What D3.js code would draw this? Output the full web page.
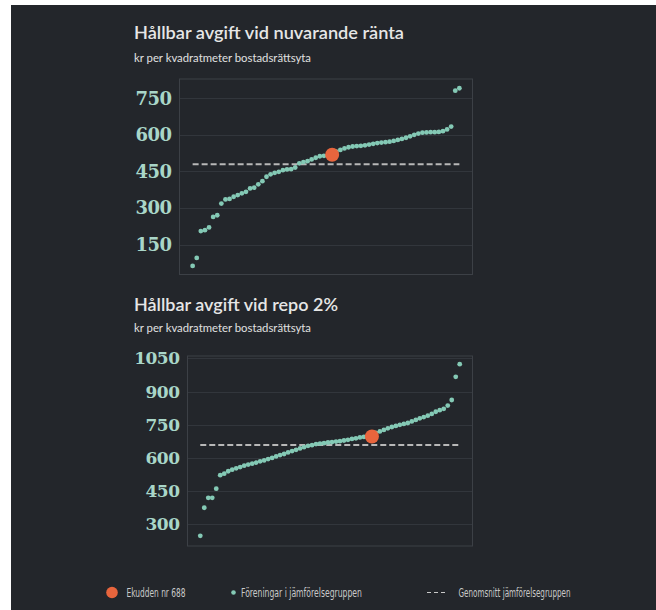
<!DOCTYPE html>
<html><head><meta charset="utf-8">
<script src="https://cdn.jsdelivr.net/npm/d3@7"></script>
<style>
html,body{margin:0;padding:0;background:#ffffff;}
svg{display:block;}
</style></head>
<body>
<script>
// ---- data ----
const titles = ["Hållbar avgift vid nuvarande ränta", "Hållbar avgift vid repo 2%"];
const subtitle = "kr per kvadratmeter bostadsrättsyta";
const feeNow = [62,95,205,209,220,263,270,318,335,337,346,353,360,366,380,383,397,410,428,438,444,448,455,458,459,466,483,488,492,499,506,512,514,516,518,531,538,544,549,552,554,555,557,560,563,566,568,570,572,575,579,583,588,594,600,605,609,610,611,611,612,615,622,634,781,791];
const feeRepo = [248,375,420,420,461,522,529,540,547,553,559,565,570,574,579,585,589,595,600,607,613,618,625,631,637,643,649,655,658,663,665,667,670,672,674,676,679,682,686,689,693,695,697,699,713,720,727,734,740,745,750,754,758,765,772,779,785,791,799,809,816,822,837,862,967,1024];
const ekuddenIndex = [34, 43];
const ekuddenValue = [518, 697];
const groupAverage = [479, 659];
const yTicksNow = [150, 300, 450, 600, 750];
const yTicksRepo = [300, 450, 600, 750, 900, 1050];
const yDomainNow = [27, 829];
const yDomainRepo = [202, 1061];
const legendLabels = ["Ekudden nr 688", "Föreningar i jämförelsegruppen", "Genomsnitt jämförelsegruppen"];

// ---- drawing ----
const W = 656, H = 610;
const svg = d3.select("body").append("svg").attr("width", W).attr("height", H);
svg.append("rect").attr("x", 11).attr("y", 5).attr("width", W - 11).attr("height", H - 5).attr("fill", "#23262b");

const C = {
  title: "#e6e6e6", sub: "#e0e0e0", tick: "#a9d6c8", grid: "#32363c", frame: "#3c4046",
  dot: "#84c9b5", orange: "#e8653d", dash: "#b8b8b8", legend: "#c9c9c9"
};

const panels = [
  {values: feeNow, ticks: yTicksNow, domain: yDomainNow, title: titles[0], ek: 0, titleW: 270,
   titleY: 39, subY: 62, left: 179.5, right: 472.5, top: 79, bottom: 274.5, tickSize: 18},
  {values: feeRepo, ticks: yTicksRepo, domain: yDomainRepo, title: titles[1], ek: 1, titleW: 204,
   titleY: 311, subY: 332, left: 187.5, right: 472.5, top: 356, bottom: 546, tickSize: 17}
];

panels.forEach(p => {
  const g = svg.append("g");
  g.append("text").attr("x", 134).attr("y", p.titleY).text(p.title)
    .attr("fill", C.title).attr("font-family", "Lato, 'Open Sans', sans-serif")
    .attr("font-size", 18).attr("font-weight", 600)
    .attr("textLength", p.titleW).attr("lengthAdjust", "spacingAndGlyphs");
  g.append("text").attr("x", 134).attr("y", p.subY).text(subtitle)
    .attr("fill", C.sub).attr("font-family", "Lato, sans-serif").attr("font-size", 10.5)
    .attr("textLength", 177).attr("lengthAdjust", "spacingAndGlyphs");

  const n = p.values.length;
  const x = d3.scaleLinear().domain([-3.2, n - 1 + 3.2]).range([p.left, p.right]);
  const y = d3.scaleLinear().domain(p.domain).range([p.bottom, p.top]);

  // gridlines
  g.append("g").selectAll("line").data(p.ticks).join("line")
    .attr("x1", p.left).attr("x2", p.right)
    .attr("y1", d => Math.round(y(d)) + 0.5).attr("y2", d => Math.round(y(d)) + 0.5)
    .attr("stroke", C.grid).attr("stroke-width", 1);

  // frame
  g.append("rect").attr("x", p.left).attr("y", p.top)
    .attr("width", p.right - p.left).attr("height", p.bottom - p.top)
    .attr("fill", "none").attr("stroke", C.frame).attr("stroke-width", 1);

  // y axis
  const ax = g.append("g").attr("transform", `translate(${p.left},0)`)
    .call(d3.axisLeft(y).tickValues(p.ticks).tickSize(0).tickPadding(8).tickFormat(d3.format("d")));
  ax.select(".domain").remove();
  ax.selectAll("text").attr("fill", C.tick)
    .attr("font-family", "'DejaVu Serif', serif").attr("font-weight", "bold")
    .attr("font-size", p.tickSize).attr("letter-spacing", -0.5);

  // average dashed line
  g.append("line").attr("x1", x(0)).attr("x2", x(n - 1))
    .attr("y1", y(groupAverage[p.ek])).attr("y2", y(groupAverage[p.ek]))
    .attr("stroke", C.dash).attr("stroke-width", 2).attr("stroke-dasharray", "6,3");

  // group dots
  g.append("g").selectAll("circle").data(p.values).join("circle")
    .attr("cx", (d, i) => x(i)).attr("cy", d => y(d)).attr("r", 2.4).attr("fill", C.dot);

  // Ekudden
  g.append("circle").attr("cx", x(ekuddenIndex[p.ek])).attr("cy", y(ekuddenValue[p.ek]))
    .attr("r", 7).attr("fill", C.orange);
});

// legend
const lg = svg.append("g").attr("font-family", "'Liberation Sans Narrow', 'DejaVu Sans Condensed', Roboto, sans-serif")
  .attr("font-size", 11.5).attr("fill", C.legend);
lg.append("circle").attr("cx", 112).attr("cy", 592.5).attr("r", 5.8).attr("fill", C.orange);
lg.append("text").attr("x", 126.5).attr("y", 596.5).text(legendLabels[0]).attr("textLength", 59).attr("lengthAdjust", "spacingAndGlyphs");
lg.append("circle").attr("cx", 233.5).attr("cy", 592.5).attr("r", 2.3).attr("fill", C.dot);
lg.append("text").attr("x", 241).attr("y", 596.5).text(legendLabels[1]).attr("textLength", 121).attr("lengthAdjust", "spacingAndGlyphs");
lg.append("line").attr("x1", 427).attr("x2", 445).attr("y1", 592.5).attr("y2", 592.5)
  .attr("stroke", C.legend).attr("stroke-width", 1).attr("stroke-dasharray", "4,3");
lg.append("text").attr("x", 458.5).attr("y", 596.5).text(legendLabels[2]).attr("textLength", 112).attr("lengthAdjust", "spacingAndGlyphs");
</script>
</body></html>
